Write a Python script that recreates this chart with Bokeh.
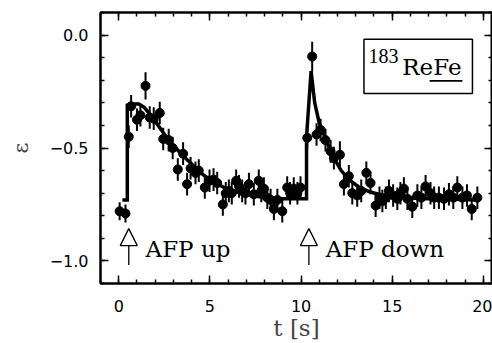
import numpy as np
from bokeh.plotting import figure
from bokeh.models import (Range1d, LinearAxis, SingleIntervalTicker, CustomJSTickFormatter,
                          Arrow, NormalHead, Label, BoxAnnotation, ColumnDataSource)
from bokeh.embed import file_html
from bokeh.resources import INLINE

# ---- data ----
t_data = [0.05, 0.37, 0.55, 0.68, 1.00, 1.19, 1.47, 1.70, 1.92, 2.25, 2.44, 2.74, 2.96, 3.24,
          3.53, 3.75, 3.94, 4.21, 4.39, 4.72, 4.98, 5.20, 5.40, 5.71, 5.87, 6.04, 6.20, 6.44,
          6.60, 6.77, 6.95, 7.14, 7.41, 7.68, 7.82, 7.96, 8.15, 8.33, 8.51, 8.70, 8.97, 9.24,
          9.40, 9.60, 9.80, 9.97, 10.34, 10.61, 10.85, 11.07, 11.34, 11.62, 11.80, 12.13, 12.35,
          12.62, 12.81, 13.08, 13.30, 13.58, 13.81, 14.09, 14.30, 14.46, 14.65, 14.82, 15.05,
          15.28, 15.45, 15.64, 15.83, 16.10, 16.38, 16.60, 16.83, 17.10, 17.30, 17.56, 17.84,
          18.11, 18.35, 18.57, 18.85, 19.10, 19.36, 19.67]
eps_data = [-0.78, -0.79, -0.45, -0.315, -0.375, -0.355, -0.225, -0.365, -0.37, -0.345, -0.46,
            -0.465, -0.50, -0.595, -0.525, -0.66, -0.59, -0.61, -0.60, -0.675, -0.645, -0.64,
            -0.655, -0.75, -0.70, -0.69, -0.70, -0.645, -0.67, -0.69, -0.70, -0.66, -0.705,
            -0.645, -0.69, -0.68, -0.72, -0.73, -0.77, -0.73, -0.78, -0.675, -0.70, -0.68,
            -0.70, -0.675, -0.455, -0.095, -0.44, -0.42, -0.465, -0.515, -0.545, -0.53, -0.66,
            -0.625, -0.70, -0.71, -0.69, -0.61, -0.655, -0.755, -0.72, -0.735, -0.72, -0.69,
            -0.71, -0.725, -0.70, -0.68, -0.725, -0.76, -0.71, -0.72, -0.67, -0.70, -0.72,
            -0.72, -0.725, -0.705, -0.72, -0.675, -0.72, -0.71, -0.77, -0.72]
eps_err = [0.04, 0.04, 0.05, 0.05, 0.05, 0.05, 0.06, 0.05, 0.05, 0.05, 0.05, 0.05, 0.05, 0.05,
           0.05, 0.05, 0.05, 0.05, 0.05, 0.05, 0.05, 0.05, 0.05, 0.05, 0.05, 0.05, 0.05, 0.05,
           0.05, 0.05, 0.05, 0.05, 0.05, 0.05, 0.05, 0.05, 0.05, 0.05, 0.05, 0.05, 0.05, 0.05,
           0.05, 0.05, 0.05, 0.05, 0.05, 0.065, 0.05, 0.05, 0.05, 0.05, 0.05, 0.06, 0.05,
           0.05, 0.05, 0.05, 0.05, 0.05, 0.05, 0.05, 0.05, 0.05, 0.05, 0.05, 0.05, 0.05,
           0.05, 0.05, 0.05, 0.05, 0.05, 0.05, 0.05, 0.05, 0.05, 0.05, 0.05, 0.05, 0.05,
           0.05, 0.05, 0.05, 0.05, 0.05]

fit_t = [0.20, 0.47, 0.47, 0.80, 1.10, 1.40, 1.90, 2.60, 3.00, 3.60, 4.50, 5.00, 6.00, 7.00,
         8.00, 9.00, 10.30, 10.30, 10.55, 10.75, 11.00, 11.30, 11.70, 12.20, 12.70, 13.20,
         13.80, 14.50, 15.50, 17.00, 19.70]
fit_eps = [-0.73, -0.73, -0.31, -0.305, -0.305, -0.32, -0.37, -0.45, -0.49, -0.54, -0.61, -0.64,
           -0.685, -0.705, -0.72, -0.725, -0.725, -0.45, -0.16, -0.30, -0.39, -0.45, -0.53,
           -0.60, -0.645, -0.675, -0.695, -0.71, -0.72, -0.725, -0.73]

arrow_x = [0.55, 10.43]
arrow_labels = ["AFP up", "AFP down"]
x_ticks_major = 5
y_ticks_major = 0.5

# ---- figure ----
p = figure(width=492, height=343, output_backend="svg", toolbar_location=None,
           x_range=Range1d(-1, 20.5), y_range=Range1d(-1.1, 0.1),
           min_border_left=100, min_border_right=0, min_border_top=12, min_border_bottom=58)
p.xgrid.visible = False
p.ygrid.visible = False
p.outline_line_color = "black"
p.outline_line_width = 2
p.background_fill_color = "white"
p.border_fill_color = "white"

xt = SingleIntervalTicker(interval=x_ticks_major, num_minor_ticks=5)
yt = SingleIntervalTicker(interval=y_ticks_major, num_minor_ticks=5)

def style(ax, labels=True):
    ax.axis_line_color = "black"
    ax.axis_line_width = 2
    ax.major_tick_in = 8
    ax.major_tick_out = 0
    ax.minor_tick_in = 4
    ax.minor_tick_out = 0
    ax.major_tick_line_width = 1.5
    ax.minor_tick_line_width = 1.5
    ax.major_tick_line_color = "black"
    ax.minor_tick_line_color = "black"
    if labels:
        ax.major_label_text_font = "DejaVu Sans"
        ax.major_label_text_font_size = "16px"
        ax.major_label_text_color = "black"
    else:
        ax.formatter = CustomJSTickFormatter(code="return '';")
        ax.major_label_text_font_size = "1px"
        ax.major_label_standoff = 0

xa = p.xaxis[0]
xa.ticker = xt
style(xa)
xa.major_label_standoff = 16
xa.axis_label = "t [s]"
xa.axis_label_text_font = "DejaVu Serif"
xa.axis_label_text_font_style = "normal"
xa.axis_label_text_font_size = "23px"
xa.axis_label_standoff = 0

ya = p.yaxis[0]
ya.ticker = yt
style(ya)
ya.major_label_standoff = 12
ya.formatter = CustomJSTickFormatter(
    code="return (tick < -1e-9 ? '\u2212' : '') + Math.abs(tick).toFixed(1);")
ya.axis_label = "\u03b5"
ya.axis_label_text_font = "DejaVu Serif"
ya.axis_label_text_font_style = "normal"
ya.axis_label_text_font_size = "21px"
ya.axis_label_standoff = 14

top = LinearAxis(ticker=xt)
style(top, labels=False)
p.add_layout(top, "above")
right = LinearAxis(ticker=yt)
style(right, labels=False)
p.add_layout(right, "right")

# ---- data ----
t = np.array(t_data)
e = np.array(eps_data)
err = np.array(eps_err)
src = ColumnDataSource(dict(t=t, e=e, lo=e - err, hi=e + err))
p.segment(x0="t", y0="lo", x1="t", y1="hi", source=src, line_color="black", line_width=2)
p.line(fit_t, fit_eps, line_color="black", line_width=3.5, line_join="miter")
p.scatter("t", "e", source=src, size=9, fill_color="black", line_color="black")

# ---- annotations ----
for ax_, lab in zip(arrow_x, arrow_labels):
    p.add_layout(Arrow(end=NormalHead(size=17, fill_color="white", line_color="black",
                                      line_width=1.3),
                       x_start=ax_, y_start=-1.018, x_end=ax_, y_end=-0.857,
                       line_color="black", line_width=1.3))
    p.add_layout(Label(x=ax_ + 0.92, y=-0.946, text=lab, text_font="DejaVu Serif",
                       text_font_size="23px", text_color="black",
                       text_baseline="alphabetic", text_align="left"))

p.add_layout(BoxAnnotation(left=13.45, right=19.40, top=-0.019, bottom=-0.259,
                           fill_color="white", fill_alpha=1, line_color="black",
                           line_width=1.5, line_alpha=1, level="underlay"))
p.add_layout(Label(x=13.70, y=-0.092, text="183", text_font="Liberation Serif",
                   text_font_size="20px", text_color="black", text_baseline="alphabetic"))
p.add_layout(Label(x=15.55, y=-0.140, text="ReFe", text_font="DejaVu Serif",
                   text_font_size="23px", text_color="black", text_baseline="alphabetic"))
p.line([17.05, 18.85], [-0.203, -0.203], line_color="black", line_width=1.8)

open("out.html", "w").write(file_html(p, INLINE))
